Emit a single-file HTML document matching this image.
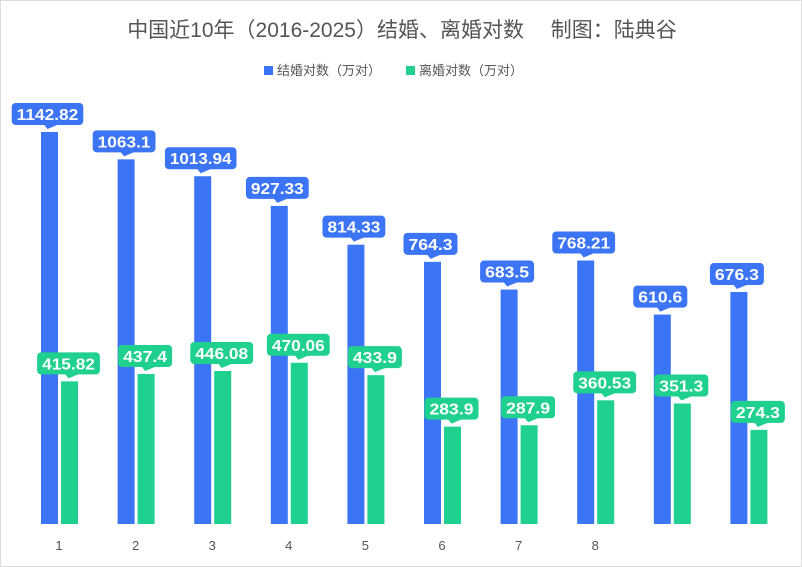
<!DOCTYPE html>
<html><head><meta charset="utf-8"><style>
body{margin:0;background:#fff;}
#wrap{position:relative;width:802px;height:567px;overflow:hidden;border:1px solid #ddd;box-sizing:border-box;font-family:"Liberation Sans","Noto Sans CJK SC",sans-serif;}
</style></head><body>
<div id="wrap">
<svg id="chart" width="802" height="567">
<text x="401" y="36" text-anchor="middle" font-size="21" fill="#555" font-family="Liberation Sans, Noto Sans CJK SC, sans-serif">中国近10年（2016-2025）结婚、离婚对数　 制图：陆典谷</text>
<g>
<rect x="263" y="65" width="9" height="9" fill="#3b74f5"/>
<text x="276" y="74" font-size="13" fill="#555">结婚对数（万对）</text>
<rect x="405" y="65" width="9" height="9" fill="#1fd08f"/>
<text x="418" y="74" font-size="13" fill="#555">离婚对数（万对）</text>
</g>
</svg>
</div>
<script>
const categories=["1","2","3","4","5","6","7","8","9","10"];
const marriages=[1142.82,1063.1,1013.94,927.33,814.33,764.3,683.5,768.21,610.6,676.3];
const divorces=[415.82,437.4,446.08,470.06,433.9,283.9,287.9,360.53,351.3,274.3];
const NS="http://www.w3.org/2000/svg";
const svg=document.getElementById('chart');
const baseY=523, pxPerUnit=0.343, x0=58, step=76.6, bw=17;
function y(v){return baseY-v*pxPerUnit;}
function gx(i){return x0+i*step;}
function mk(t,a){const e=document.createElementNS(NS,t);for(const k in a)e.setAttribute(k,a[k]);svg.appendChild(e);return e;}
function label(cx,topY,val,color,name){
  const txt=String(val);const w=txt.length*8.8+10;const bx=cx-w/2, by=topY-29;
  const r=mk('rect',{x:bx,y:by,width:w,height:22,rx:4,fill:color});
  
  
  const p=mk('polygon',{points:`${cx-4},${by+21} ${cx+12},${by+21} ${cx},${by+26}`,fill:color});
  
  
  const t=mk('text',{x:cx,y:by+17,'text-anchor':'middle','font-size':16,'font-weight':'bold',fill:'#fff',textLength:w-10,lengthAdjust:'spacingAndGlyphs'});
  t.textContent=txt;
  
  
}
categories.forEach((c,i)=>{
  const cx=gx(i);
  const b=mk('rect',{x:cx-bw-1,y:y(marriages[i]),width:bw,height:baseY-y(marriages[i]),fill:'#3b74f5'});
  
  
  const g=mk('rect',{x:cx+2,y:y(divorces[i]),width:bw,height:baseY-y(divorces[i]),fill:'#1fd08f'});
  
  
  label(cx-bw/2-3,y(marriages[i]),marriages[i],'#3b74f5','marriage-'+c);
  label(cx+bw/2+1,y(divorces[i]),divorces[i],'#1fd08f','divorce-'+c);
  if(i<8){
    const t=mk('text',{x:cx,y:549,'text-anchor':'middle','font-size':13,fill:'#555'});
    t.textContent=c;
    
    
  }
});
const wm=mk('rect',{x:640,y:525,width:162,height:42,fill:'#fff'});


</script>
</body></html>
